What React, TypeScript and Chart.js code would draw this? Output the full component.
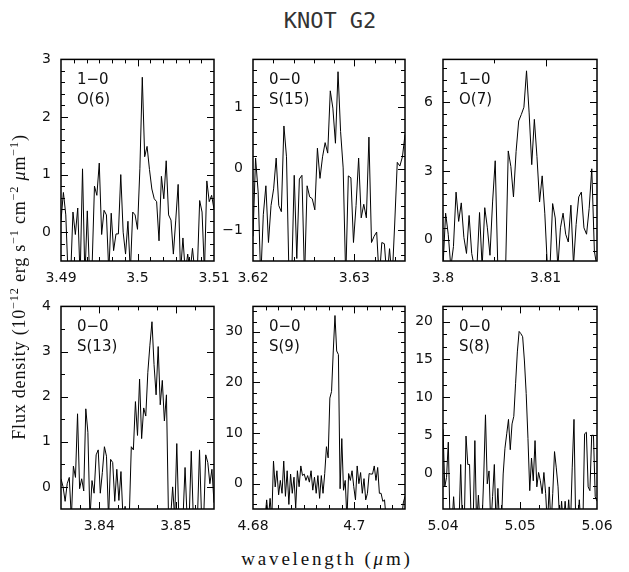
import React, { useEffect, useRef } from "react";
import { Chart, registerables } from "chart.js";

Chart.register(...registerables);

// ---------------- data (flux density, 1e-12 erg s-1 cm-2 um-1) ----------------
// Each spectrum is uniformly sampled from its start to its end wavelength (um).
const p1Start = 3.49, p1End = 3.51;
const p1Flux = [0.2, 0.69, 0.3, -0.8, -0.8, 0.35, -0.04, 0.42, -0.8, 1.1, -0.8, 0.37, -0.8, -0.6, 0.8, 0.64, 1.2, -0.04, 0.38, 0.3, -0.7, 0.33, -0.32, -0.03, -0.03, 1.0, 0.0, -0.38, 0.19, -0.7, 0.35, 0.3, 0.05, 1.11, 2.69, 1.31, 1.49, 1.09, 0.75, 0.58, 0.53, -0.15, 0.97, 0.58, 1.24, 0.3, 0.21, -0.38, 0.21, 0.83, -0.7, -0.1, -0.7, -0.38, -0.7, -0.28, -0.7, -0.7, 0.55, 0.35, -0.7, 0.89, 0.53, 0.64, 0.4];

const p2Start = 3.62, p2End = 3.635;
const p2Flux = [-1.1, 0.17, -0.38, -1.8, -0.75, -0.28, -1.2, -0.6, -0.33, 0.17, -0.6, -0.7, 0.69, 0.19, -1.8, -1.8, -0.11, -1.46, -0.17, -0.11, -1.8, -0.28, -0.46, -0.49, -0.67, 0.33, -0.16, 0.19, 0.42, 0.25, 1.26, 0.98, 0.41, 1.57, 0.6, 0.01, -1.8, -0.12, -0.15, -1.2, -0.6, 0.17, -0.8, -0.58, -0.8, 0.51, -1.2, -1.1, -1.03, -1.8, -1.2, -1.22, -1.8, -1.3, -1.8, -0.9, 0.1, 0.04, 0.19, 0.55];

const p3Start = 3.8, p3End = 3.815;
const p3Flux = [-1.2, 1.16, 0.24, -1.2, -0.3, 2.08, 0.8, 1.61, 0.1, -0.6, 1.06, -0.6, -1.2, -1.2, 1.19, -1.2, 1.4, 0.52, -0.68, 1.65, 3.45, -1.2, -1.2, -1.2, -1.2, 3.88, 3.2, 1.87, 3.85, 5.19, 5.47, 5.79, 7.38, 5.54, 3.28, 5.26, 3.63, 1.65, 2.79, 1.16, -1.2, -1.2, 1.58, 0.95, -1.2, 0.52, 1.16, 0.24, -0.1, 1.51, -1.1, 0.66, 1.87, 2.08, 0.52, 0.24, 1.37, 3.1, -0.5, -1.2];

const p4Start = 3.835, p4End = 3.855;
const p4Flux = [0.18, 0.0, -0.32, 0.07, 0.21, -0.7, 0.46, 0.21, 1.62, -0.04, 0.18, -0.09, 1.73, 1.21, -0.7, 0.14, -0.14, 0.71, 0.82, -0.14, 0.32, 0.89, 0.68, -0.7, 0.61, 0.54, -0.32, 0.39, -0.3, 0.34, -0.7, -0.43, -0.7, -0.7, 0.89, 0.82, 1.89, 1.14, 2.39, 1.07, 1.75, 1.57, 2.54, 3.14, 3.66, 2.71, 2.04, 3.11, 1.82, 2.36, 1.46, 2.04, -0.7, -0.7, 0.0, -0.7, 0.96, -0.7, -0.7, -0.7, 0.43, -0.7, -0.7, 0.79, -0.7, -0.7, -0.7, 0.82, -0.7, -0.7, 0.71, 0.54, 0.07, 0.39, -0.35];

const p5Start = 4.68, p5End = 4.71;
const p5Flux = [-7, -7, -7, -7, -7, -7, -7, -7, -3.2, -7, -2.9, -7, 4.47, -0.64, 2.55, -2.2, 0.64, -1.9, 4.47, -2.5, 2.55, -4.1, 1.9, -1.9, 1.28, -4.8, 2.55, -0.6, 3.5, 1.6, 1.9, 0.64, 1.6, 0.3, 2.55, -1.28, 1.28, -1.9, 1.6, -2.9, 1.6, -1.9, 2.0, 7.3, 5.1, 16.9, 18.2, 26.2, 33.2, 26.2, 25.5, -1.0, 8.9, -1.3, 0.64, -7, 2.0, 0.64, 2.55, -0.6, -3.2, 3.5, 0.0, 2.2, -1.9, 1.0, -3.2, -1.9, 2.0, 1.9, 1.9, 3.5, 0.64, 3.2, -1.9, -1.9, -3.5, -3.2, -7, -7, -7, -7, -7, -7, -7, -7, -7, -7, -3.8, -2.5];

const p6Start = 5.04, p6End = 5.06;
const p6Flux = [5.8, -1.8, -0.55, 4.1, -7, -7, -3.1, -7, -7, -7, 1.15, -7, -7, 4.9, 1.15, 1.15, -7, -7, 4.3, -7, -2.9, -7, -7, -0.5, 7.7, -1.4, 0.3, -7, -3.1, 1.15, -7, -2.0, -7, -7, -0.1, 3.3, 5.2, 7.1, 3.1, 6.5, 7.5, 11.8, 16, 18.7, 18.4, 18, 14.8, 10.5, 4.6, -2.3, 2.0, -1.0, 4.3, -1.8, 0.1, -1.0, -2.7, 0.1, -2.7, -7, -1.8, -7, -2.7, 2.85, 0.7, -1.8, -7, -3.7, -7, -3.7, -7, -3.5, -7, 0.7, 7.1, -7, -7, -3.5, -7, -7, 5.2, 5.4, -1.8, -2.3, 5.0, 5.0, -3.1, -3.7];

// tick labels
const p1XTicks = [3.49, 3.5, 3.51];
const p1YTicks = [0, 1, 2, 3];
const p2XTicks = [3.62, 3.63];
const p2YTicks = [-1, 0, 1];
const p3XTicks = [3.8, 3.81];
const p3YTicks = [0, 3, 6];
const p4XTicks = [3.84, 3.85];
const p4YTicks = [0, 1, 2, 3, 4];
const p5XTicks = [4.68, 4.7];
const p5YTicks = [0, 10, 20, 30];
const p6XTicks = [5.04, 5.05, 5.06];
const p6YTicks = [0, 5, 10, 15, 20];

// panel line labels
const bandLabels = ["1\u22120", "0\u22120", "1\u22120", "0\u22120", "0\u22120", "0\u22120"];
const lineLabels = ["O(6)", "S(15)", "O(7)", "S(13)", "S(9)", "S(8)"];

// ---------------- layout / style ----------------
const PAD_L = 50; // y-axis label band
const PAD_R = 26;
const PAD_T = 12;
const AX_H = 36; // x-axis label band
const TICK_FONT = { family: "'DejaVu Sans', sans-serif", size: 14 };
const INK = "#111";

type Panel = {
  flux: number[]; start: number; end: number;
  xMin: number; xMax: number; yMin: number; yMax: number;
  xTicks: number[]; yTicks: number[]; xMinor: number; yMinor: number;
  band: string; line: string;
  box: [number, number, number, number];
};

const PANELS: Panel[] = [
  { flux: p1Flux, start: p1Start, end: p1End, xMin: 3.49, xMax: 3.51, yMin: -0.5, yMax: 3, xTicks: p1XTicks, yTicks: p1YTicks, xMinor: 0.01 / 6, yMinor: 0.2, band: bandLabels[0], line: lineLabels[0], box: [61, 53, 153, 208] },
  { flux: p2Flux, start: p2Start, end: p2End, xMin: 3.62, xMax: 3.635, yMin: -1.5, yMax: 1.77, xTicks: p2XTicks, yTicks: p2YTicks, xMinor: 0.002, yMinor: 0.2, band: bandLabels[1], line: lineLabels[1], box: [253, 53, 152, 208] },
  { flux: p3Flux, start: p3Start, end: p3End, xMin: 3.8, xMax: 3.815, yMin: -0.93, yMax: 7.88, xTicks: p3XTicks, yTicks: p3YTicks, xMinor: 0.005, yMinor: 0.5, band: bandLabels[2], line: lineLabels[2], box: [443, 53, 154, 208] },
  { flux: p4Flux, start: p4Start, end: p4End, xMin: 3.835, xMax: 3.855, yMin: -0.49, yMax: 4, xTicks: p4XTicks, yTicks: p4YTicks, xMinor: 0.0025, yMinor: 0.5, band: bandLabels[3], line: lineLabels[3], box: [61, 300, 153, 209] },
  { flux: p5Flux, start: p5Start, end: p5End, xMin: 4.68, xMax: 4.71, yMin: -5, yMax: 35, xTicks: p5XTicks, yTicks: p5YTicks, xMinor: 0.0025, yMinor: 2, band: bandLabels[4], line: lineLabels[4], box: [253, 300, 152, 209] },
  { flux: p6Flux, start: p6Start, end: p6End, xMin: 5.04, xMax: 5.06, yMin: -4.72, yMax: 22, xTicks: p6XTicks, yTicks: p6YTicks, xMinor: 0.0025, yMinor: 5 / 3, band: bandLabels[5], line: lineLabels[5], box: [443, 300, 154, 209] },
];

function fmt(v: number): string {
  const s = String(parseFloat(Number(v).toFixed(4)));
  return s.replace("-", "\u2212");
}

function minorValues(min: number, max: number, step: number): number[] {
  const out: number[] = [];
  const k0 = Math.ceil(min / step - 1e-6);
  const k1 = Math.floor(max / step + 1e-6);
  for (let k = k0; k <= k1; k++) out.push(k * step);
  return out;
}

const framePlugin = {
  id: "frame",
  afterDatasetsDraw(chart: any, _args: any, opts: any) {
    const p: Panel = opts.panel;
    const { ctx, chartArea: a, scales } = chart;
    const xs = scales.x, ys = scales.y;
    ctx.save();
    ctx.strokeStyle = "#000";
    ctx.lineWidth = 1;
    const seg = (x1: number, y1: number, x2: number, y2: number) => {
      ctx.beginPath(); ctx.moveTo(x1, y1); ctx.lineTo(x2, y2); ctx.stroke();
    };
    const xTick = (v: number, len: number) => {
      const px = Math.round(xs.getPixelForValue(v)) + 0.5;
      if (px < a.left + 1 || px > a.right - 1) return;
      seg(px, a.top, px, a.top + len);
      seg(px, a.bottom, px, a.bottom - len);
    };
    const yTick = (v: number, len: number) => {
      const py = Math.round(ys.getPixelForValue(v)) + 0.5;
      if (py < a.top + 1 || py > a.bottom - 1) return;
      seg(a.left, py, a.left + len, py);
      seg(a.right, py, a.right - len, py);
    };
    minorValues(p.xMin, p.xMax, p.xMinor).forEach((v) => xTick(v, 4));
    minorValues(p.yMin, p.yMax, p.yMinor).forEach((v) => yTick(v, 4));
    p.xTicks.forEach((v) => xTick(v, 7));
    p.yTicks.forEach((v) => yTick(v, 7));
    ctx.lineWidth = 1.5;
    ctx.strokeRect(a.left, a.top, a.right - a.left, a.bottom - a.top);
    ctx.fillStyle = INK;
    ctx.font = "15px 'DejaVu Sans', sans-serif";
    ctx.textBaseline = "alphabetic";
    ctx.textAlign = "left";
    ctx.fillText(p.band, a.left + 16, a.top + 25);
    ctx.fillText(p.line, a.left + 16, a.top + 45);
    ctx.restore();
  },
};

function makeConfig(p: Panel): any {
  const n = p.flux.length;
  const dx = (p.end - p.start) / (n - 1);
  const pts = p.flux.map((f, i) => ({ x: p.start + i * dx, y: f }));
  return {
    type: "line",
    data: {
      datasets: [
        { data: pts, borderColor: "#000", borderWidth: 1, pointRadius: 0, tension: 0, fill: false },
      ],
    },
    options: {
      animation: false,
      responsive: false,
      maintainAspectRatio: false,
      events: [],
      layout: { padding: { left: 0, top: PAD_T, right: PAD_R, bottom: 0 } },
      plugins: { legend: { display: false }, tooltip: { enabled: false }, frame: { panel: p } },
      scales: {
        x: {
          type: "linear",
          min: p.xMin,
          max: p.xMax,
          afterBuildTicks: (s: any) => { s.ticks = p.xTicks.map((v) => ({ value: v })); },
          afterFit: (s: any) => { s.height = AX_H; },
          grid: { display: false, drawTicks: false },
          border: { display: false },
          ticks: { font: TICK_FONT, color: INK, padding: 9, maxRotation: 0, autoSkip: false, callback: (v: number) => fmt(v) },
        },
        y: {
          type: "linear",
          min: p.yMin,
          max: p.yMax,
          afterBuildTicks: (s: any) => { s.ticks = p.yTicks.map((v) => ({ value: v })); },
          afterFit: (s: any) => { s.width = PAD_L; },
          grid: { display: false, drawTicks: false },
          border: { display: false },
          ticks: { font: TICK_FONT, color: INK, padding: 10, autoSkip: false, callback: (v: number) => fmt(v) },
        },
      },
    },
    plugins: [framePlugin],
  };
}

const supStyle = { fontSize: "0.68em", lineHeight: 0 };

export default function App() {
  const refs = useRef<(HTMLCanvasElement | null)[]>([]);
  useEffect(() => {
    const charts = PANELS.map((p, i) => new Chart(refs.current[i] as HTMLCanvasElement, makeConfig(p)));
    return () => charts.forEach((c) => c.destroy());
  }, []);

  return (
    <div style={{ position: "absolute", left: 0, top: 0, width: 629, height: 572, background: "#fff", overflow: "hidden" }}>
      {PANELS.map((p, i) => {
        const [bx, by, bw, bh] = p.box;
        const w = bw + PAD_L + PAD_R;
        const h = bh + PAD_T + AX_H;
        return (
          <canvas
            key={i}
            ref={(el) => { refs.current[i] = el; }}
            width={w}
            height={h}
            style={{ position: "absolute", left: bx - PAD_L, top: by - PAD_T, width: w, height: h }}
          />
        );
      })}
      <div style={{ position: "absolute", left: 180, top: 10, width: 300, textAlign: "center", font: "22px/22px 'DejaVu Sans Mono', monospace", color: "#333" }}>
        KNOT G2
      </div>
      <div style={{ position: "absolute", left: 127, top: 549, width: 400, textAlign: "center", font: "19px/19px 'Liberation Serif', serif", letterSpacing: "2.8px", color: INK }}>
        wavelength (<i>μ</i>m)
      </div>
      <div style={{ position: "absolute", left: 19 - 200, top: 287 - 10, width: 400, height: 20, textAlign: "center", font: "18px/20px 'Liberation Serif', serif", letterSpacing: "0.8px", color: INK, transform: "rotate(-90deg)", transformOrigin: "50% 50%", whiteSpace: "nowrap" }}>
        Flux density (10<sup style={supStyle}>−12</sup> erg s<sup style={supStyle}>−1</sup> cm<sup style={supStyle}>−2</sup> <i>μ</i>m<sup style={supStyle}>−1</sup>)
      </div>
    </div>
  );
}
